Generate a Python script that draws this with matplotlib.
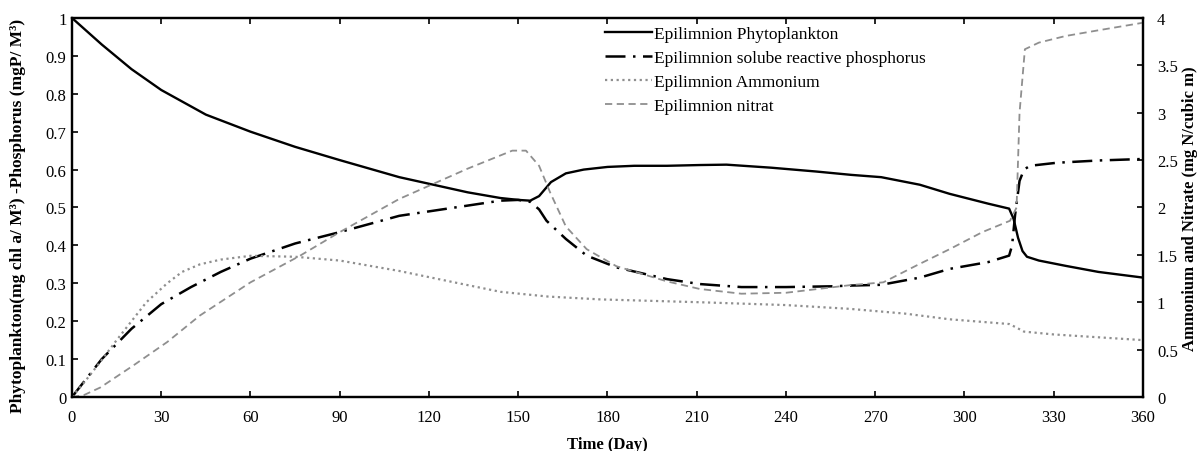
import matplotlib
matplotlib.use("Agg")
import matplotlib.pyplot as plt
from matplotlib.ticker import MultipleLocator, FuncFormatter

# values
days_phyto = [0, 5, 10, 20, 30, 45, 60, 75, 90, 110, 133, 144, 150, 154, 157, 161,
              166, 172, 180, 189, 200, 211, 220, 235, 250, 262, 272, 285, 295, 308,
              315, 316.5, 318, 319.5, 321, 325, 334, 345, 360]
phyto = [1.0, 0.965, 0.93, 0.865, 0.81, 0.745, 0.70, 0.66, 0.625, 0.58, 0.54, 0.525,
         0.52, 0.518, 0.53, 0.567, 0.59, 0.60, 0.607, 0.61, 0.61, 0.612, 0.613, 0.605,
         0.595, 0.586, 0.58, 0.56, 0.536, 0.51, 0.497, 0.47, 0.42, 0.385, 0.37, 0.36,
         0.346, 0.33, 0.315]

days_phos = [0, 5, 10, 20, 30, 40, 50, 60, 75, 90, 110, 133, 144, 150, 154, 157,
             159.5, 166, 173, 183, 200, 211, 225, 240, 255, 262, 272, 285, 295, 308,
             315, 316, 317, 318.5, 320, 322, 331, 345, 360]
phos = [0, 0.05, 0.1, 0.18, 0.245, 0.29, 0.33, 0.365, 0.405, 0.435, 0.478, 0.505,
        0.518, 0.52, 0.515, 0.495, 0.465, 0.417, 0.373, 0.342, 0.311, 0.298, 0.29,
        0.29, 0.292, 0.294, 0.296, 0.315, 0.338, 0.356, 0.373, 0.40, 0.48, 0.57, 0.60,
        0.61, 0.618, 0.624, 0.628]

days_amm = [0, 5, 9.5, 15, 20.5, 25, 32, 37, 43, 50, 60, 75, 90, 110, 130, 144, 160,
            177.5, 211, 240, 261.5, 280, 295, 315, 317, 320, 330, 345, 360]
amm = [0, 0.19, 0.37, 0.6, 0.82, 1.0, 1.2, 1.32, 1.4, 1.45, 1.49, 1.48, 1.44, 1.33,
       1.2, 1.11, 1.06, 1.03, 1.0, 0.97, 0.93, 0.88, 0.82, 0.77, 0.74, 0.69, 0.66,
       0.63, 0.6]

days_nit = [0, 4, 9.5, 20.5, 32, 43, 60, 76.6, 90, 110, 133, 148, 152.6, 157, 160.7,
            166, 173, 183, 200, 211, 225, 240, 261.5, 272.7, 284, 295, 306, 315.3,
            317.5, 318.5, 320.3, 325, 334, 345, 360]
nit = [0, 0.02, 0.1, 0.33, 0.58, 0.86, 1.21, 1.49, 1.74, 2.09, 2.41, 2.6, 2.6, 2.44,
       2.16, 1.8, 1.56, 1.38, 1.22, 1.14, 1.09, 1.1, 1.18, 1.21, 1.39, 1.56, 1.74, 1.86,
       2.0, 3.0, 3.67, 3.74, 3.81, 3.87, 3.95]

legend_labels = ["Epilimnion Phytoplankton", "Epilimnion solube reactive phosphorus",
                 "Epilimnion Ammonium", "Epilimnion nitrat"]

plt.rcParams["font.family"] = ["Liberation Serif", "DejaVu Serif"]
plt.rcParams["font.size"] = 12

fig = plt.figure(figsize=(12, 4.52), dpi=100)
ax = fig.add_axes([0.06, 0.1195, 0.8925, 0.8385])
ax2 = ax.twinx()

gray = "#8f8f8f"
h1, = ax.plot(days_phyto, phyto, color="black", lw=1.7)
h2, = ax.plot(days_phos, phos, color="black", lw=1.8, dashes=(8, 3, 1, 3))
h3, = ax2.plot(days_amm, amm, color=gray, lw=1.6, dashes=(1, 1.6))
h4, = ax2.plot(days_nit, nit, color=gray, lw=1.3, dashes=(4, 2.5))

ax.set_xlim(0, 360)
ax.set_ylim(0, 1)
ax2.set_ylim(0, 4)
ax.xaxis.set_major_locator(MultipleLocator(30))
ax.yaxis.set_major_locator(MultipleLocator(0.1))
ax2.yaxis.set_major_locator(MultipleLocator(0.5))
fmt = FuncFormatter(lambda v, p: f"{v:g}")
ax.yaxis.set_major_formatter(fmt)
ax2.yaxis.set_major_formatter(fmt)

ax.tick_params(direction="in", length=4, width=1.2, top=True, labelsize=12)
ax.tick_params(axis="x", pad=9)
ax.tick_params(axis="y", pad=4)
ax2.tick_params(direction="in", length=4, width=1.2, labelsize=12, pad=10)
for a in (ax, ax2):
    for s in a.spines.values():
        s.set_linewidth(1.6)

ax.set_xlabel("Time (Day)", fontweight="bold", fontsize=12)
ax.xaxis.set_label_coords(0.5, -0.125)
ax.xaxis.label.set_va("center")

ax.set_ylabel("Phytoplankton(mg chl a/ M³) -Phosphorus (mgP/ M³)",
              fontweight="bold", fontsize=12.5)
ax.yaxis.set_label_coords(-0.0504, 0.48)
ax.yaxis.label.set_va("center")

ax2.set_ylabel("Ammonium and Nitrate (mg N/cubic m)", fontweight="bold", fontsize=12)
ax2.yaxis.set_label_coords(1.0435, 0.5)
ax2.yaxis.label.set_va("center")

ax.legend([h1, h2, h3, h4], legend_labels,
          loc="upper left", bbox_to_anchor=(0.491, 0.998), borderaxespad=0,
          frameon=False, fontsize=12.5, handlelength=2.7, handletextpad=0.15,
          labelspacing=0.45)

fig.savefig("out.png", dpi=100)
